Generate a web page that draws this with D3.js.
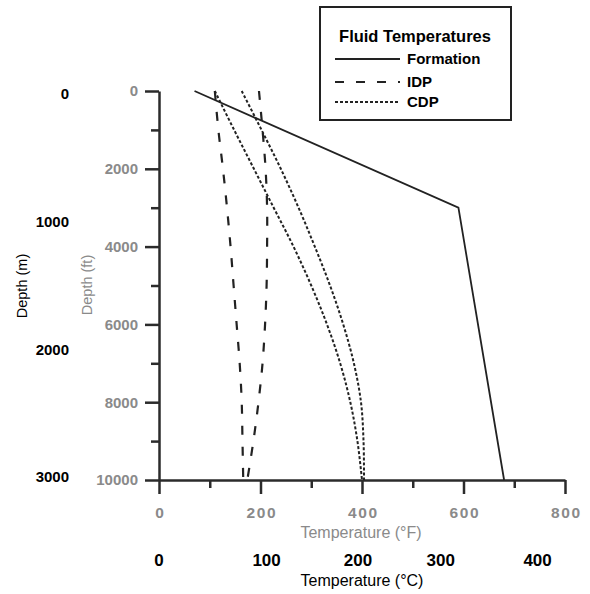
<!DOCTYPE html>
<html>
<head>
<meta charset="utf-8">
<script src="https://cdn.jsdelivr.net/npm/d3@7"></script>
<style>
    body { margin: 0; background: #fff; }
    svg { font-family: "Liberation Sans", Arial, sans-serif; }
    .axis path, .axis line { stroke: #2b2b2b; stroke-width: 2.5; }
    .axis text { fill: #8a8a8a; font-weight: bold; }
</style>
</head>
<body>
<div id="chart"></div>
<script>
// Depth samples (ft) used by the fluid temperature curves
const depthFt = [0, 1000, 2000, 3000, 4000, 5000, 6000, 7000, 8000, 9000, 10000];

// Fluid temperatures (°F)
const idpLow  = [110, 117, 126, 134, 141, 147, 153, 159, 163, 164.5, 166];
const idpHigh = [197, 204, 210, 213, 213, 212, 209, 204, 196, 186, 174];
const cdpLow  = [110, 148, 187, 226, 265, 300, 331, 357, 377, 391, 400];
const cdpHigh = [163, 202, 240, 275, 307, 337, 363, 384, 398, 403, 404];

// Formation temperature profile
const formationDepth = [0, 3000, 10000];
const formationTemp  = [70, 590, 680];

// Axis ticks
const tempTicksF  = [0, 200, 400, 600, 800];
const tempMinorF  = [100, 300, 500, 700];
const depthTicks  = [0, 2000, 4000, 6000, 8000, 10000];
const depthMinor  = [1000, 3000, 5000, 7000, 9000];
const metreTicks  = [0, 1000, 2000, 3000];
const celsiusTicks = [0, 100, 200, 300, 400];
// where the source figure puts each °C label along the °F axis
const celsiusAtF   = [0, 212, 392, 555, 746];

const legendItems = [
    { label: "Formation", dash: null, width: 1.8 },
    { label: "IDP", dash: "9,12", width: 2.2 },
    { label: "CDP", dash: "3,2", width: 2 }
];

const W = 590, H = 594;
const svg = d3.select("#chart").append("svg")
    .attr("width", W)
    .attr("height", H);

// scales: °F across, ft down
const x = d3.scaleLinear().domain([0, 800]).range([159, 565]);
const y = d3.scaleLinear().domain([0, 10000]).range([91, 480]);
const yM = d3.scaleLinear().domain([0, 10000 * 0.3048]).range([91, 480]);

// minor ticks first (no labels)
svg.append("g")
    .attr("class", "axis")
    .attr("transform", "translate(0,480)")
    .call(d3.axisBottom(x).tickValues(tempMinorF).tickSize(8).tickSizeOuter(0).tickFormat(""))
    .select(".domain").remove();
svg.append("g")
    .attr("class", "axis")
    .attr("transform", "translate(159,0)")
    .call(d3.axisLeft(y).tickValues(depthMinor).tickSize(8).tickSizeOuter(0).tickFormat(""))
    .select(".domain").remove();

// main x axis (°F)
const xAxisG = svg.append("g")
    .attr("class", "axis")
    .attr("transform", "translate(0,480)")
    .call(d3.axisBottom(x).tickValues(tempTicksF).tickSize(14).tickSizeOuter(0).tickPadding(13).tickFormat(d3.format("d")));
xAxisG.selectAll("text")
    .style("font-size", "15.5px")
    .style("letter-spacing", "1.6px")
    .attr("dx", "0.8px");

// main y axis (ft)
const yAxisG = svg.append("g")
    .attr("class", "axis")
    .attr("transform", "translate(159,0)")
    .call(d3.axisLeft(y).tickValues(depthTicks).tickSize(14).tickSizeOuter(0).tickPadding(7).tickFormat(d3.format("d")));
yAxisG.selectAll("text")
    .style("font-size", "15px");

// axis titles in °F / ft (grey)
svg.append("text")
    .attr("x", 361)
    .attr("y", 538)
    .attr("text-anchor", "middle")
    .attr("fill", "#8a8a8a")
    .style("font-size", "16px")
    .text("Temperature (°F)");

svg.append("text")
    .attr("transform", "translate(92,285) rotate(-90)")
    .attr("text-anchor", "middle")
    .attr("fill", "#8a8a8a")
    .style("font-size", "14.5px")
    .text("Depth (ft)");

// secondary labels in °C / m (black)
svg.append("g")
    .selectAll("text")
    .data(celsiusTicks)
    .join("text")
        .attr("x", (d, i) => x(celsiusAtF[i]))
        .attr("y", 566)
        .attr("text-anchor", "middle")
        .style("font-size", "17px")
        .style("font-weight", "bold")
        .text(d => d);

svg.append("text")
    .attr("x", 362)
    .attr("y", 586)
    .attr("text-anchor", "middle")
    .style("font-size", "16px")
    .text("Temperature (°C)");

svg.append("g")
    .selectAll("text")
    .data(metreTicks)
    .join("text")
        .attr("x", 69)
        .attr("y", d => yM(d) + 3)
        .attr("dy", "0.36em")
        .attr("text-anchor", "end")
        .style("font-size", "15px")
        .style("font-weight", "bold")
        .text(d => d);

svg.append("text")
    .attr("transform", "translate(27,286) rotate(-90)")
    .attr("text-anchor", "middle")
    .style("font-size", "14.5px")
    .text("Depth (m)");

// curves
const line = d3.line()
    .x(d => x(d[0]))
    .y(d => y(d[1]));
const smooth = d3.line()
    .x(d => x(d[0]))
    .y(d => y(d[1]))
    .curve(d3.curveCatmullRom.alpha(0.5));

const curves = [
    { temps: idpLow, dash: "9,12", width: 2.2 },
    { temps: idpHigh, dash: "9,12", width: 2.2 },
    { temps: cdpLow, dash: "3,2", width: 2 },
    { temps: cdpHigh, dash: "3,2", width: 2 }
];

svg.append("g")
    .selectAll("path")
    .data(curves)
    .join("path")
        .attr("d", c => smooth(c.temps.map((t, i) => [t, depthFt[i]])))
        .attr("fill", "none")
        .attr("stroke", "#222")
        .attr("stroke-width", c => c.width)
        .attr("stroke-dasharray", c => c.dash);

svg.append("path")
    .attr("d", line(formationTemp.map((t, i) => [t, formationDepth[i]])))
    .attr("fill", "none")
    .attr("stroke", "#222")
    .attr("stroke-width", 1.8);

// legend
const legend = svg.append("g");
legend.append("rect")
    .attr("x", 320)
    .attr("y", 7)
    .attr("width", 191)
    .attr("height", 113)
    .attr("fill", "#fff")
    .attr("stroke", "#222")
    .attr("stroke-width", 2);

legend.append("text")
    .attr("x", 415)
    .attr("y", 42)
    .attr("text-anchor", "middle")
    .style("font-size", "16.5px")
    .style("font-weight", "bold")
    .text("Fluid Temperatures");

const rowY = [59, 82, 102];
const rows = legend.selectAll(".row")
    .data(legendItems)
    .join("g")
        .attr("class", "row")
        .attr("transform", (d, i) => `translate(0,${rowY[i]})`);

rows.append("line")
    .attr("x1", 335)
    .attr("x2", 400)
    .attr("stroke", "#222")
    .attr("stroke-width", d => d.width)
    .attr("stroke-dasharray", d => d.dash);

rows.append("text")
    .attr("x", 407)
    .attr("dy", "0.36em")
    .style("font-size", "15px")
    .style("font-weight", "bold")
    .text(d => d.label);
</script>
</body>
</html>
